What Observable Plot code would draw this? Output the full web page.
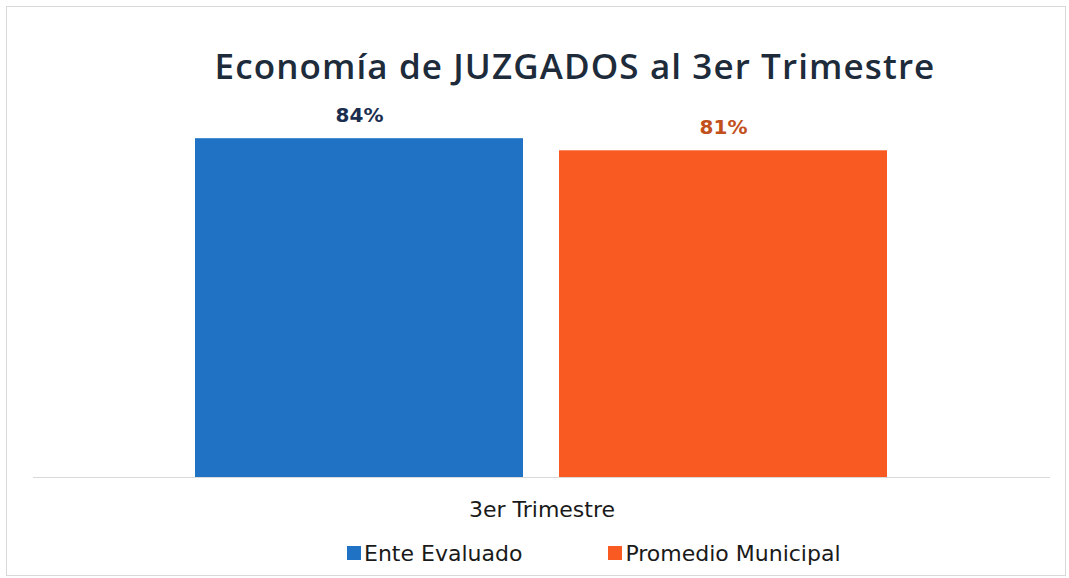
<!DOCTYPE html>
<html>
<head>
<meta charset="utf-8">
<script src="https://cdn.jsdelivr.net/npm/d3@7"></script>
<script src="https://cdn.jsdelivr.net/npm/@observablehq/plot@0.6"></script>
<style>
  html, body { margin: 0; padding: 0; background: #fff; }
  #wrap { position: relative; width: 1069px; height: 578px; overflow: hidden; font-family: "DejaVu Sans", sans-serif; }
  #frame { position: absolute; left: 6px; top: 6px; right: 3px; bottom: 2px; border: 1px solid #d9d9d9; }
  #title { position: absolute; left: 0; top: 0; width: 1069px; height: 95px; padding-left: 81px; box-sizing: border-box; text-align: center; line-height: 131px; font-family: "Open Sans", sans-serif; font-size: 35px; font-weight: 600; letter-spacing: 1.1px; color: #1d2b3a; white-space: nowrap; }
  #chart { position: absolute; left: 0; top: 95px; }
  #legend { position: absolute; left: 347px; top: 532px; height: 42px; display: flex; align-items: center; gap: 86px; font-size: 22px; color: #1a1a1a; }
  .item { display: flex; align-items: center; }
  .sw { width: 14px; height: 14px; margin-right: 3px; }
</style>
</head>
<body>
<div id="wrap">
  <div id="frame"></div>
  <div id="title">Economía de JUZGADOS al 3er Trimestre</div>
  <div id="chart"></div>
  <div id="legend"></div>
</div>
<script>
const periods = ["3er Trimestre"];
const series = ["Ente Evaluado", "Promedio Municipal"];
const values = [84, 81];
const barColors = ["#1f72c4", "#f85a22"];
const labelColors = ["#1b2e50", "#c2501c"];

const data = series.map((s, i) => ({period: periods[0], series: s, value: values[i]}));

const chart = Plot.plot({
  width: 1069,
  height: 435,
  marginLeft: 33,
  marginRight: 19,
  marginTop: 19,
  marginBottom: 53,
  style: {fontFamily: "'DejaVu Sans', sans-serif", background: "transparent"},
  fx: {domain: periods, padding: 0, label: null, axis: "bottom", tickSize: 0, tickPadding: 24},
  x: {domain: series, paddingInner: 0.0986, paddingOuter: 0.4425, axis: null},
  y: {domain: [0, 90], axis: null},
  color: {domain: series, range: barColors},
  marks: [
    Plot.barY(data, {fx: "period", x: "series", y: "value", fill: "series"}),
    Plot.ruleY([0], {stroke: "#d9d9d9", strokeWidth: 1.2}),
    Plot.text(data, {fx: "period", x: "series", y: "value", text: d => d.value + "%", dy: -23, fontSize: 20, fontWeight: "bold", fill: d => labelColors[series.indexOf(d.series)]})
  ]
});
chart.querySelectorAll("g[aria-label='fx-axis tick label'] text").forEach(t => { t.setAttribute("font-size", "22"); t.setAttribute("fill", "#1a1a1a"); });
document.getElementById("chart").appendChild(chart);

const legend = document.getElementById("legend");
series.forEach((s, i) => {
  const it = document.createElement("div");
  it.className = "item";
  const sw = document.createElement("span");
  sw.className = "sw";
  sw.style.background = barColors[i];
  const tx = document.createElement("span");
  tx.textContent = s;
  it.appendChild(sw); it.appendChild(tx);
  legend.appendChild(it);
});
</script>
</body>
</html>
